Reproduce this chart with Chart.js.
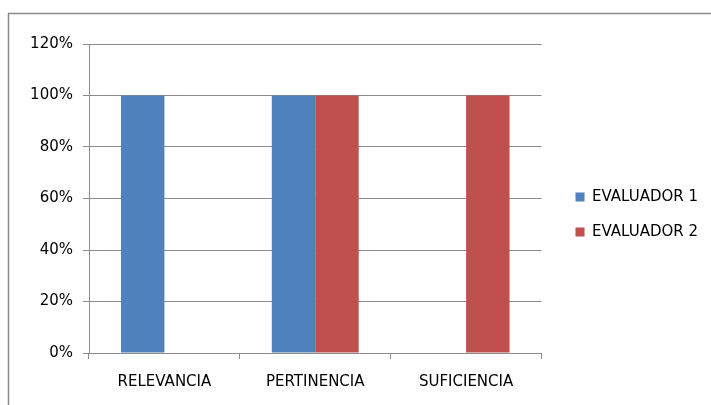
<!DOCTYPE html>
<html>
<head>
<meta charset="utf-8">
<script src="https://cdn.jsdelivr.net/npm/chart.js@4.4.1/dist/chart.umd.min.js"></script>
<style>
  html, body { margin: 0; padding: 0; background: #fff; }
  #wrap { width: 711px; height: 405px; }
</style>
</head>
<body>
<div id="wrap"><canvas id="evalChart" width="711" height="405"></canvas></div>
<script>
/* --------------- Data --------------------- */
const categories = ["RELEVANCIA", "PERTINENCIA", "SUFICIENCIA"];
const evaluador1 = [1, 1, 0];
const evaluador2 = [0, 1, 1];
const yTicks = [0, 0.2, 0.4, 0.6, 0.8, 1, 1.2];

const FONT = "'DejaVu Sans', Verdana, sans-serif";
const GRID = "#8c8c8c";

/* --------------- Outer frame --------------------- */
const framePlugin = {
  id: "frame",
  beforeDraw(chart) {
    const ctx = chart.ctx;
    ctx.save();
    ctx.fillStyle = "#fff";
    ctx.fillRect(0, 0, chart.width, chart.height);
    ctx.strokeStyle = "#8a8a8a";
    ctx.lineWidth = 1.5;
    ctx.strokeRect(8.5, 13.5, 800, 500);
    ctx.restore();
  },
};

/* --------------- Nudge the legend a bit away from the plot --------------------- */
const legendShift = {
  id: "legendShift",
  afterLayout(chart) {
    const lg = chart.legend;
    lg.left += 14;
    lg.right += 14;
    lg.top -= 10;
    lg.bottom -= 10;
  },
};

/* --------------- Chart --------------------- */
const evalChart = new Chart(document.getElementById("evalChart"), {
  type: "bar",
  plugins: [framePlugin, legendShift],
  data: {
    labels: categories,
    datasets: [
      { label: "EVALUADOR 1", data: evaluador1, backgroundColor: "#4f81bd" },
      { label: "EVALUADOR 2", data: evaluador2, backgroundColor: "#c0504d" },
    ],
  },
  options: {
    responsive: false,
    animation: false,
    layout: { padding: { left: 9, top: 44, right: 17, bottom: 0 } },
    datasets: {
      bar: { categoryPercentage: 0.576, barPercentage: 1 },
    },
    scales: {
      x: {
        grid: {
          offset: true,
          drawOnChartArea: false,
          drawTicks: true,
          tickLength: 6,
          color: GRID,
        },
        border: { color: GRID, width: 1 },
        ticks: { color: "#000", font: { family: FONT, size: 15 }, padding: 14, maxRotation: 0 },
      },
      y: {
        min: 0,
        max: 1.2,
        afterBuildTicks: (scale) => { scale.ticks = yTicks.map((v) => ({ value: v })); },
        grid: { color: GRID, tickLength: 6 },
        border: { color: GRID, width: 1 },
        ticks: {
          color: "#000",
          font: { family: FONT, size: 15 },
          padding: 10,
          callback: (v) => Math.round(v * 100) + "%",
        },
        afterFit: (scale) => { scale.width = 80; },
      },
    },
    plugins: {
      tooltip: { enabled: false },
      legend: {
        position: "right",
        labels: {
          color: "#000",
          font: { family: FONT, size: 15 },
          boxWidth: 9,
          boxHeight: 9,
          padding: 20,
        },
      },
    },
  },
});
</script>
</body>
</html>
